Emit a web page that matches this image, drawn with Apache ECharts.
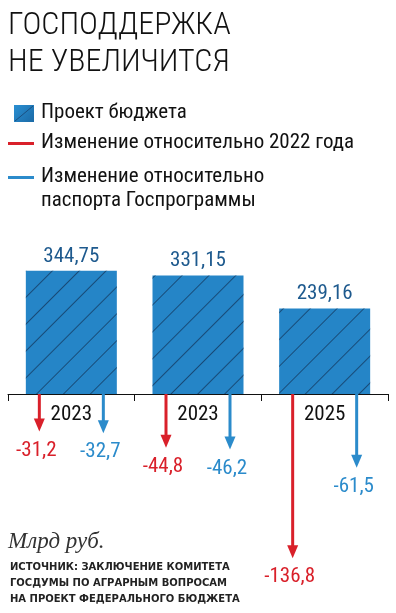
<!DOCTYPE html>
<html>
<head>
<meta charset="utf-8">
<script src="https://cdn.jsdelivr.net/npm/echarts@6/dist/echarts.min.js"></script>
<style>
html,body{margin:0;padding:0;background:#fff;}
#chart{width:396px;height:613px;}
</style>
</head>
<body>
<div id="chart"></div>
<script>
const categories = ['2023', '2023', '2025'];
const budget = [344.75, 331.15, 239.16];
const changeVs2022 = [-31.2, -44.8, -136.8];
const changeVsPassport = [-32.7, -46.2, -61.5];

const NARROW = '"Liberation Sans Narrow", "Roboto Condensed", "DejaVu Sans Condensed", "Arial Narrow", sans-serif';
const BAR_BLUE = '#2585c7';
const RED = '#d9202a';
const BLUE = '#2b8bcb';

function fmt(v) { return String(v).replace('.', ','); }

function arrowSeries(values, color, offset, name) {
  return {
    type: 'custom',
    name: name,
    xAxisIndex: 1,
    yAxisIndex: 1,
    data: values.map((v, i) => [i, v]),
    renderItem: function (params, api) {
      const i = api.value(0), v = api.value(1);
      const p0 = api.coord([i, 0]);
      const p1 = api.coord([i, v]);
      const x = p0[0] + offset;
      const headH = 13, headW = 11;
      return {
        type: 'group',
        children: [
          { type: 'line', shape: { x1: x, y1: p0[1], x2: x, y2: p1[1] - headH + 1 },
            style: { stroke: color, lineWidth: 3 } },
          { type: 'polygon', shape: { points: [[x - headW / 2, p1[1] - headH], [x + headW / 2, p1[1] - headH], [x, p1[1]]] },
            style: { fill: color } },
          { type: 'text', x: x - 3, y: p1[1] + 19,
            style: { text: fmt(v), fill: color, font: '21px ' + NARROW, align: 'center', verticalAlign: 'middle' } }
        ]
      };
    }
  };
}

const chart = echarts.init(document.getElementById('chart'), null, { renderer: 'canvas' });
chart.setOption({
  backgroundColor: '#fff',
  animation: false,
  grid: [
    { left: 8, right: 8, top: 251, bottom: 219 },
    { left: 8, right: 8, top: 394, bottom: 39 }
  ],
  xAxis: [
    { type: 'category', gridIndex: 0, data: categories, boundaryGap: true,
      axisLine: { lineStyle: { color: '#111', width: 1 } },
      axisTick: { show: true, length: 7, inside: false, lineStyle: { color: '#111' } },
      axisLabel: { margin: 10, color: '#111', fontSize: 21, fontFamily: NARROW } },
    { type: 'category', gridIndex: 1, data: categories, show: false }
  ],
  yAxis: [
    { type: 'value', gridIndex: 0, min: 0, max: 400, show: false },
    { type: 'value', gridIndex: 1, min: -150, max: 0, show: false }
  ],
  series: [
    { type: 'bar', name: 'Проект бюджета', xAxisIndex: 0, yAxisIndex: 0, data: budget, barWidth: 91,
      itemStyle: { color: BAR_BLUE,
        decal: { symbol: 'rect', symbolSize: 1, dashArrayX: [1, 0], dashArrayY: [1, 18], rotation: -Math.PI / 4, color: 'rgba(20,60,100,0.8)' } },
      label: { show: true, position: 'top', distance: 4, color: '#1e5a8e', fontSize: 21, fontFamily: NARROW, formatter: p => fmt(p.value) } },
    arrowSeries(changeVs2022, RED, -32, 'Изменение относительно 2022 года'),
    arrowSeries(changeVsPassport, BLUE, 32, 'Изменение относительно паспорта Госпрограммы')
  ],
  graphic: [
    { type: 'text', left: 8, top: 7, style: { text: 'ГОСПОДДЕРЖКА\nНЕ УВЕЛИЧИТСЯ', font: '300 32px ' + NARROW, fill: '#111', lineHeight: 37 } },
    // legend
    { type: 'rect', shape: { x: 14, y: 105, width: 20, height: 17 },
      style: { fill: new echarts.graphic.LinearGradient(0, 0, 1, 1, [{ offset: 0, color: '#2a8fd2' }, { offset: 1, color: '#1b6aa6' }]) } },
    { type: 'line', shape: { x1: 15, y1: 121, x2: 33, y2: 106 }, style: { stroke: '#1a4f80', lineWidth: 1 } },
    { type: 'text', x: 41, y: 113, style: { text: 'Проект бюджета', font: '21px ' + NARROW, fill: '#111', verticalAlign: 'middle' } },
    { type: 'line', shape: { x1: 8, y1: 143.5, x2: 34, y2: 143.5 }, style: { stroke: RED, lineWidth: 3 } },
    { type: 'text', x: 41, y: 143, style: { text: 'Изменение относительно 2022 года', font: '21px ' + NARROW, fill: '#111', verticalAlign: 'middle' } },
    { type: 'line', shape: { x1: 8, y1: 177.5, x2: 34, y2: 177.5 }, style: { stroke: BLUE, lineWidth: 3 } },
    { type: 'text', x: 41, y: 177, style: { text: 'Изменение относительно', font: '21px ' + NARROW, fill: '#111', verticalAlign: 'middle' } },
    { type: 'text', x: 41, y: 201, style: { text: 'паспорта Госпрограммы', font: '21px ' + NARROW, fill: '#111', verticalAlign: 'middle' } },
    // footer
    { type: 'text', x: 8, y: 542, style: { text: 'Млрд руб.', font: 'italic 23px "Liberation Serif", "DejaVu Serif", serif', fill: '#333', verticalAlign: 'middle' } },
    { type: 'text', x: 10, y: 567, style: { text: 'ИСТОЧНИК: ЗАКЛЮЧЕНИЕ КОМИТЕТА', font: 'bold 10px "DejaVu Sans", sans-serif', fill: '#222', verticalAlign: 'middle' } },
    { type: 'text', x: 10, y: 583, style: { text: 'ГОСДУМЫ ПО АГРАРНЫМ ВОПРОСАМ', font: 'bold 10px "DejaVu Sans", sans-serif', fill: '#222', verticalAlign: 'middle' } },
    { type: 'text', x: 10, y: 599, style: { text: 'НА ПРОЕКТ ФЕДЕРАЛЬНОГО БЮДЖЕТА', font: 'bold 10px "DejaVu Sans", sans-serif', fill: '#222', verticalAlign: 'middle' } }
  ]
});
</script>
</body>
</html>
